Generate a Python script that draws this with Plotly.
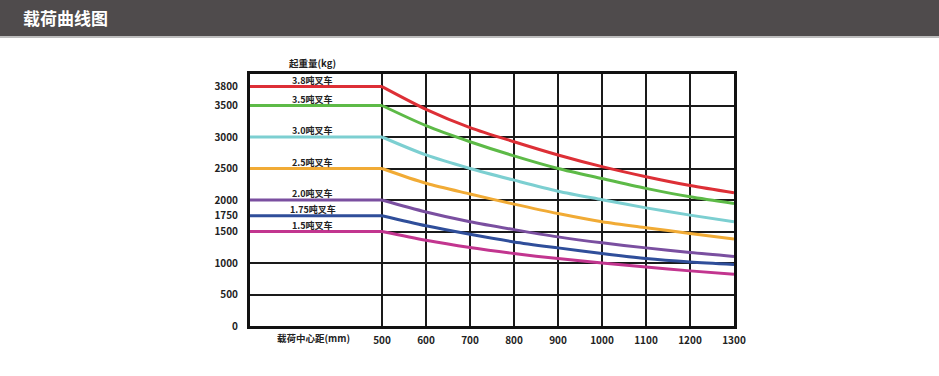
import plotly.graph_objects as go

# ---- data ----
load_centers = [200, 500, 600, 700, 800, 900, 1000, 1100, 1200, 1300]
series_names = ["3.8吨叉车", "3.5吨叉车", "3.0吨叉车", "2.5吨叉车", "2.0吨叉车", "1.75吨叉车", "1.5吨叉车"]
cap_38 = [3800, 3800, 3440, 3150, 2925, 2715, 2530, 2370, 2230, 2115]
cap_35 = [3500, 3500, 3180, 2925, 2700, 2500, 2340, 2185, 2050, 1945]
cap_30 = [3000, 3000, 2715, 2500, 2315, 2140, 2005, 1875, 1760, 1655]
cap_25 = [2500, 2500, 2265, 2095, 1935, 1785, 1655, 1560, 1470, 1380]
cap_20 = [2000, 2000, 1810, 1655, 1530, 1415, 1320, 1240, 1165, 1105]
cap_175 = [1750, 1750, 1590, 1455, 1335, 1240, 1150, 1070, 1015, 975]
cap_15 = [1500, 1500, 1360, 1245, 1150, 1070, 1000, 938, 875, 820]
series_values = [cap_38, cap_35, cap_30, cap_25, cap_20, cap_175, cap_15]
series_colors = ["#dd2f36", "#5dba47", "#7ccfd1", "#f1ab35", "#7a4fa0", "#2f4e9a", "#c2358f"]

x_ticks = [500, 600, 700, 800, 900, 1000, 1100, 1200, 1300]
y_ticks = [0, 500, 1000, 1500, 1750, 2000, 2500, 3000, 3500, 3800]

title_text = "载荷曲线图"
y_title = "起重量(kg)"
x_title = "载荷中心距(mm)"

FONT = "Noto Sans CJK SC"

fig = go.Figure()
for name, vals, col in zip(series_names, series_values, series_colors):
    # flat section (up to 500 mm)
    fig.add_trace(go.Scatter(x=load_centers[:2], y=vals[:2], mode="lines", name=name,
                             line=dict(color=col, width=3), hoverinfo="skip"))
    # decreasing section (500 mm onward)
    fig.add_trace(go.Scatter(x=load_centers[1:], y=vals[1:], mode="lines", name=name,
                             line=dict(color=col, width=3, shape="spline", smoothing=0.8),
                             hoverinfo="skip"))
    fig.add_annotation(x=343, y=vals[0], text=f"<b>{name}</b>", showarrow=False,
                       xanchor="center", yanchor="bottom", yshift=-2,
                       font=dict(family=FONT, size=9, color="#222"))

# dummy trace for grid overlay axis
fig.add_trace(go.Scatter(x=[None], y=[None], yaxis="y2", showlegend=False, hoverinfo="skip"))

W, H = 939, 376
L, R, T, B = 250, 205, 74, 50
pw, ph = W - L - R, H - T - B

fig.update_layout(
    width=W, height=H,
    margin=dict(l=L, r=R, t=T, b=B),
    paper_bgcolor="white", plot_bgcolor="white",
    showlegend=False,
    font=dict(family=FONT, color="#222"),
    xaxis=dict(range=[200, 1300], tickvals=x_ticks, ticktext=[f"<b>{v}</b>" for v in x_ticks],
               showgrid=True, gridcolor="#1a1a1a", gridwidth=2, zeroline=False,
               showline=True, linecolor="#111", linewidth=3, mirror=True,
               ticks="outside", ticklen=3, tickcolor="rgba(0,0,0,0)",
               tickfont=dict(family=FONT, size=10, color="#222")),
    yaxis=dict(range=[0, 4000], tickvals=y_ticks, ticktext=[f"<b>{v}</b>" for v in y_ticks],
               showgrid=False, zeroline=False,
               showline=True, linecolor="#111", linewidth=3, mirror=True,
               ticks="outside", ticklen=7, tickcolor="rgba(0,0,0,0)",
               tickfont=dict(family=FONT, size=10, color="#222")),
    yaxis2=dict(range=[0, 4000], overlaying="y", dtick=500, tick0=0, showgrid=True,
                gridcolor="#1a1a1a", gridwidth=2, showticklabels=False, zeroline=False,
                showline=False),
)

# header bar
fig.add_shape(type="rect", xref="paper", yref="paper",
              x0=-L / pw, x1=1 + R / pw, y0=1 + (T - 36) / ph, y1=1 + T / ph,
              fillcolor="#4f4b4c", line=dict(width=0), layer="below")
fig.add_shape(type="rect", xref="paper", yref="paper",
              x0=-L / pw, x1=1 + R / pw, y0=1 + (T - 38) / ph, y1=1 + (T - 36) / ph,
              fillcolor="#bdbdbd", line=dict(width=0), layer="below")

fig.add_annotation(xref="paper", yref="paper", x=(21 - L) / pw, y=1 + (T - 18) / ph,
                   text=f"<b>{title_text}</b>", showarrow=False, xanchor="left", yanchor="middle",
                   font=dict(family=FONT, size=17, color="white"))
fig.add_annotation(xref="paper", yref="paper", x=(312 - L) / pw, y=1 + (T - 63) / ph,
                   text=f"<b>{y_title}</b>", showarrow=False, xanchor="center", yanchor="middle",
                   font=dict(family=FONT, size=9.5, color="#222"))
fig.add_annotation(xref="paper", yref="paper", x=(313 - L) / pw, y=-(338 - (H - B)) / ph,
                   text=f"<b>{x_title}</b>", showarrow=False, xanchor="center", yanchor="middle",
                   font=dict(family=FONT, size=9.5, color="#222"))

fig.write_html("out.html", config={"displayModeBar": False},
               post_script="document.body.style.margin='0';document.body.style.overflow='hidden';")
